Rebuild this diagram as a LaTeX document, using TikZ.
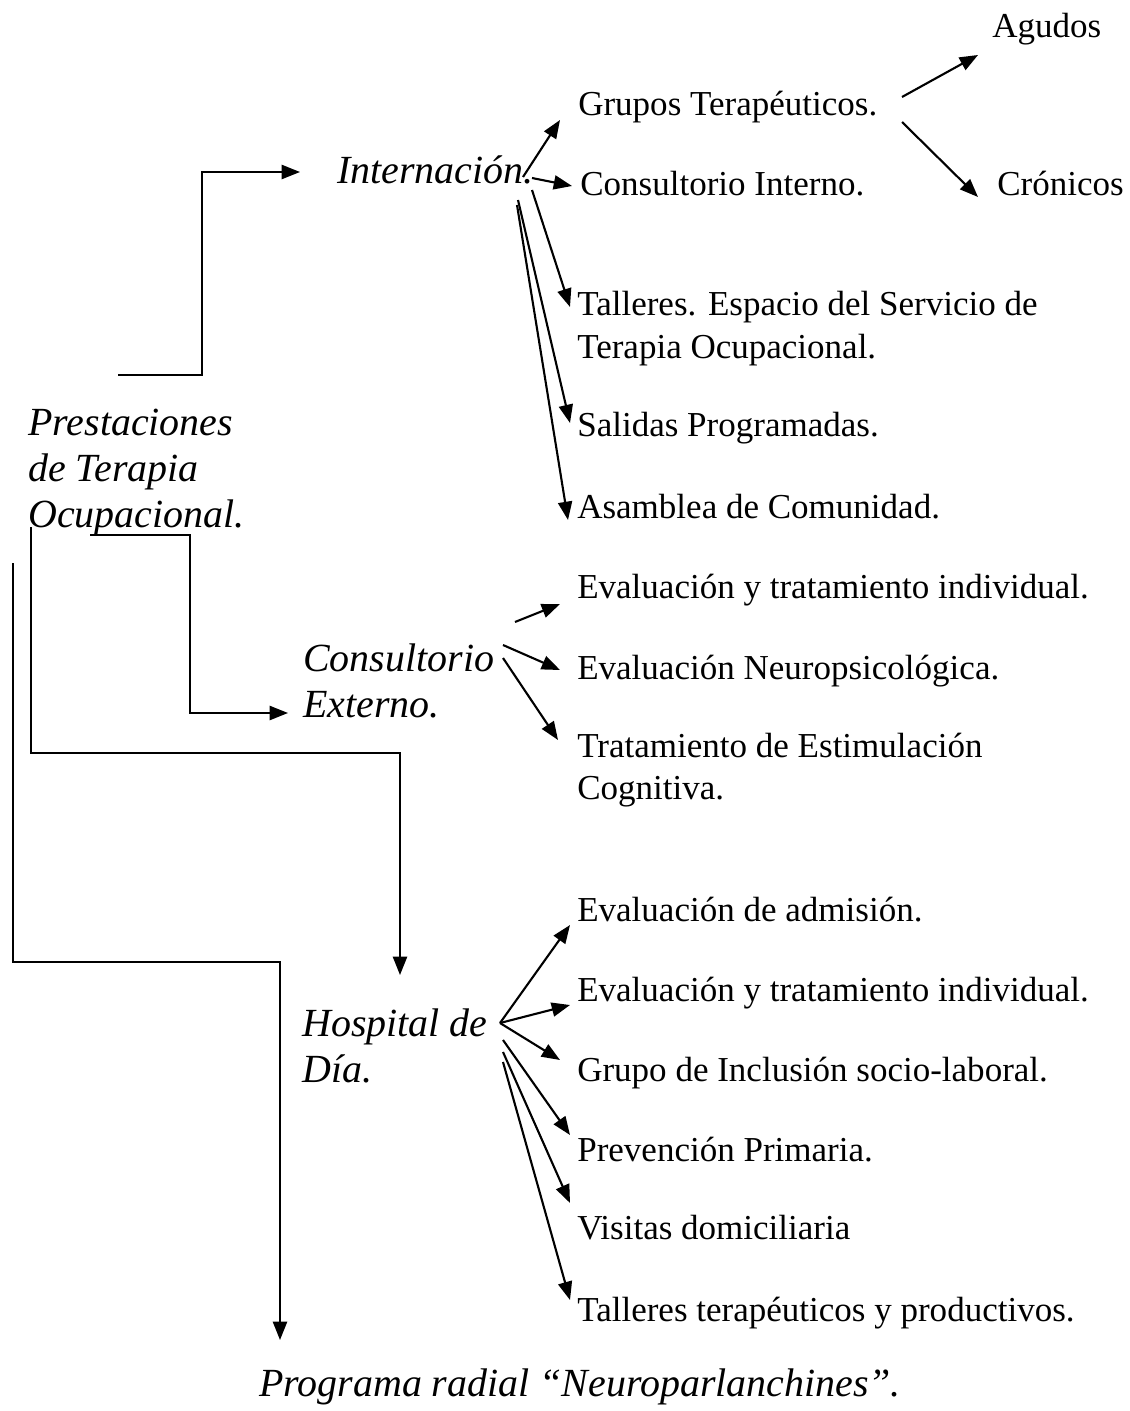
\documentclass[tikz,border=0pt]{standalone}
\usepackage{fontspec}
\setmainfont{Liberation Serif}
\usetikzlibrary{arrows.meta}

\tikzset{texto/.style = {anchor=base west, inner sep=0pt, align=left,
                         font=\fontsize{24.9}{29.9}\selectfont},
         rama/.style  = {texto, font=\itshape\fontsize{28.4}{32.5}\selectfont},
         flecha/.style = {line width=1.5pt, -{Triangle[length=13pt, width=10pt]}}
        }

\begin{document}
\begin{tikzpicture}[x=0.025cm, y=-0.025cm]
  \useasboundingbox (0,0) rectangle (1129,1411);

  % ramas (base = ultima linea)
  \node[rama] (prest) at (28,527)   {Prestaciones\\de Terapia\\Ocupacional.};
  \node[rama] (inter) at (337,184)  {Internación.};
  \node[rama] (cext)  at (303,717)  {Consultorio\\Externo.};
  \node[rama] (hosp)  at (302,1082) {Hospital de\\Día.};
  \node[rama] (radio) at (259,1396) {Programa radial “Neuroparlanchines”.};

  % internacion
  \node[texto] (grupos)   at (578,116) {Grupos Terapéuticos.};
  \node[texto] (agudos)   at (992,38)  {Agudos};
  \node[texto] (cronicos) at (997,196) {Crónicos};
  \node[texto] (cint)     at (580,196) {Consultorio Interno.};
  \node[texto] (talleres) at (577,358) {Talleres. Espacio del Servicio de\\Terapia Ocupacional.};
  \node[texto] (salidas)  at (577,436) {Salidas Programadas.};
  \node[texto] (asamblea) at (577,518) {Asamblea de Comunidad.};

  % consultorio externo
  \node[texto] (evind1) at (577,598) {Evaluación y tratamiento individual.};
  \node[texto] (neuro)  at (577,679) {Evaluación Neuropsicológica.};
  \node[texto, font=\fontsize{24.9}{29.2}\selectfont] (trat) at (577,799) {Tratamiento de Estimulación\\Cognitiva.};

  % hospital de dia
  \node[texto] (admis)  at (577,921)  {Evaluación de admisión.};
  \node[texto] (evind2) at (577,1001) {Evaluación y tratamiento individual.};
  \node[texto] (inclu)  at (577,1081) {Grupo de Inclusión socio-laboral.};
  \node[texto] (prev)   at (577,1161) {Prevención Primaria.};
  \node[texto] (visit)  at (577,1239) {Visitas domiciliaria};
  \node[texto] (tallt)  at (577,1321) {Talleres terapéuticos y productivos.};

  % puntos de salida
  \coordinate (ini1) at (118,375);
  \coordinate (ini2) at (90,535);
  \coordinate (ini3) at (31,527);
  \coordinate (ini4) at (13,563);

  % codos desde Prestaciones
  \draw[flecha] (ini1) -- ++(84,0) |- ([shift={(-37,-12)}]inter.base west);
  \draw[flecha] (ini2) -- ++(100,0) |- ([shift={(-15,-4)}]cext.base west);
  \draw[flecha] (ini3) -- ++(0,226) -| ([shift={(98,-107)}]hosp.base west);
  \draw[flecha] (ini4) -- ++(0,399) -| ([shift={(21,-56)}]radio.base west);

  % abanico internacion
  \draw[flecha] ([shift={(186,-7)}]inter.base west) -- ([shift={(-18,4)}]grupos.base west);
  \draw[flecha] ([shift={(195,-6)}]inter.base west) -- ([shift={(-8,-10)}]cint.base west);
  \draw[flecha] ([shift={(195,6)}]inter.base west)  -- ([shift={(-7,-51)}]talleres.base west);
  \draw[flecha] ([shift={(181,16)}]inter.base west) -- ([shift={(-7,-13)}]salidas.base west);
  \draw[flecha] ([shift={(180,21)}]inter.base west) -- ([shift={(-9,2)}]asamblea.base west);
  \draw[flecha] ([shift={(324,-19)}]grupos.base west) -- ([shift={(-14,17)}]agudos.base west);
  \draw[flecha] ([shift={(324,6)}]grupos.base west)   -- ([shift={(-19,1)}]cronicos.base west);

  % abanico consultorio externo
  \draw[flecha] ([shift={(212,-95)}]cext.base west) -- ([shift={(-17,6)}]evind1.base west);
  \draw[flecha] ([shift={(200,-72)}]cext.base west) -- ([shift={(-17,-9)}]neuro.base west);
  \draw[flecha] ([shift={(200,-59)}]cext.base west) -- ([shift={(-19,-59)}]trat.base west);

  % abanico hospital de dia
  \draw[flecha] ([shift={(198,-59)}]hosp.base west) -- ([shift={(-7,4)}]admis.base west);
  \draw[flecha] ([shift={(198,-59)}]hosp.base west) -- ([shift={(-7,4)}]evind2.base west);
  \draw[flecha] ([shift={(198,-59)}]hosp.base west) -- ([shift={(-17,-21)}]inclu.base west);
  \draw[flecha] ([shift={(201,-42)}]hosp.base west) -- ([shift={(-7,-26)}]prev.base west);
  \draw[flecha] ([shift={(201,-30)}]hosp.base west) -- ([shift={(-7,-36)}]visit.base west);
  \draw[flecha] ([shift={(201,-20)}]hosp.base west) -- ([shift={(-7,-21)}]tallt.base west);
\end{tikzpicture}
\end{document}
